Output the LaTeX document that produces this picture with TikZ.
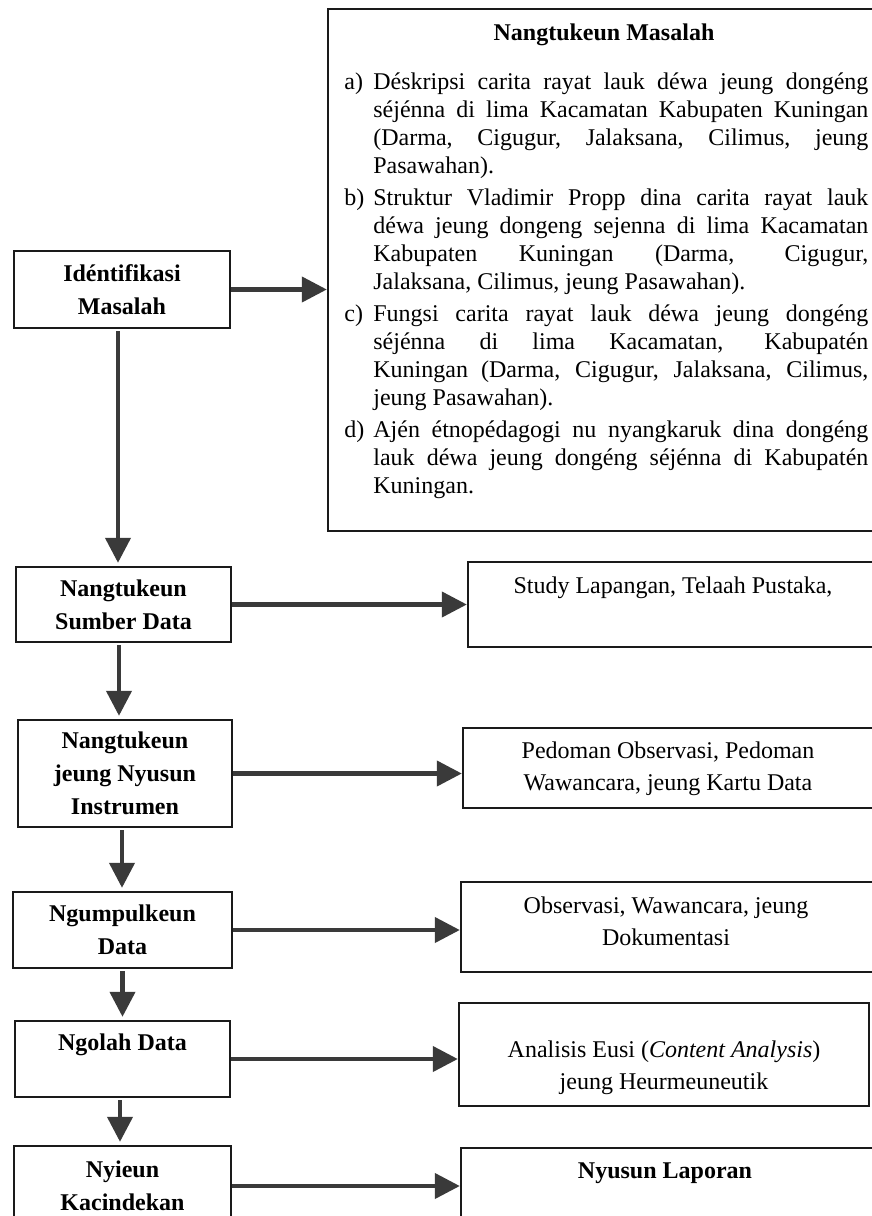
\documentclass[tikz,border=0pt]{standalone}
\usepackage{fontspec}
\setmainfont{Liberation Serif}
\usetikzlibrary{arrows.meta}
\definecolor{arr}{HTML}{3A3A3A}
\definecolor{edge}{HTML}{1A1A1A}
\begin{document}
\begin{tikzpicture}[x=0.5pt,y=-0.5pt,
  lbox/.style={draw=edge, line width=1.2pt, inner sep=0pt, align=center, font=\fontsize{12}{16.5}\selectfont\bfseries},
  rbox/.style={draw=edge, line width=1.2pt, inner sep=0pt},
  rtxt/.style={align=center, inner sep=0pt, font=\fontsize{12}{16}\selectfont},
  conn/.style={draw=arr, line width=2.1pt, -{Triangle[length=12.5pt,width=12.5pt]}},
  vconn/.style={conn, shorten <=1pt, shorten >=1.5pt}]
\useasboundingbox[fill=white] (0,0) rectangle (872,1216);
\clip (0,0) rectangle (872,1216);

% top row
\node[lbox, minimum width=108pt, minimum height=38.5pt] (id) at (122,289.5) {Idéntifikasi\\Masalah};
\node[rbox, minimum width=274pt, minimum height=261pt] (big) at (602,270) {};
\node[font=\fontsize{12}{14}\selectfont\bfseries, anchor=base, inner sep=0pt] (ttl) at (604,40) {Nangtukeun Masalah};
\node[anchor=north west, inner sep=0pt, text width=262pt, align=justify,
      font=\fontsize{12}{14}\selectfont] (lst) at (344,72) {%
\tolerance=10000\hyphenpenalty=10000\parskip=2pt\parindent=0pt
\hangindent=14.5pt\hangafter=1\makebox[14.5pt][l]{a)}Déskripsi carita rayat lauk déwa jeung dongéng\linebreak séjénna di lima Kacamatan Kabupaten Kuningan\linebreak (Darma, Cigugur, Jalaksana, Cilimus, jeung\linebreak Pasawahan).\par
\hangindent=14.5pt\hangafter=1\makebox[14.5pt][l]{b)}Struktur Vladimir Propp dina carita rayat lauk\linebreak déwa jeung dongeng sejenna di lima Kacamatan\linebreak Kabupaten Kuningan (Darma, Cigugur,\linebreak Jalaksana, Cilimus, jeung Pasawahan).\par
\hangindent=14.5pt\hangafter=1\makebox[14.5pt][l]{c)}Fungsi carita rayat lauk déwa jeung dongéng\linebreak séjénna di lima Kacamatan, Kabupatén\linebreak Kuningan (Darma, Cigugur, Jalaksana, Cilimus,\linebreak jeung Pasawahan).\par
\hangindent=14.5pt\hangafter=1\makebox[14.5pt][l]{d)}Ajén étnopédagogi nu nyangkaruk dina dongéng\linebreak lauk déwa jeung dongéng séjénna di Kabupatén\linebreak Kuningan.\par};

% row 2
\node[lbox, minimum width=107.5pt, minimum height=37.5pt] (src) at (123.5,604.5) {Nangtukeun\\Sumber Data};
\node[rbox, minimum width=203.5pt, minimum height=42.5pt] (study) at (671.5,604.5) {};
\node[rtxt] (studyt) at (673,588) {Study Lapangan, Telaah Pustaka,};

% row 3
\node[lbox, minimum width=107pt, minimum height=53.5pt] (ins) at (125,773.5) {Nangtukeun\\jeung Nyusun\\Instrumen};
\node[rbox, minimum width=206pt, minimum height=40pt] (ped) at (669,768) {};
\node[rtxt] (pedt) at (668,769) {Pedoman Observasi, Pedoman\\Wawancara, jeung Kartu Data};

% row 4
\node[lbox, minimum width=109.5pt, minimum height=38pt] (col) at (122.5,930) {Ngumpulkeun\\Data};
\node[rbox, minimum width=207pt, minimum height=45pt] (obs) at (668,927) {};
\node[rtxt] (obst) at (666,921.5) {Observasi, Wawancara, jeung\\Dokumentasi};

% row 5
\node[lbox, minimum width=107.5pt, minimum height=38pt] (proc) at (122.5,1059) {Ngolah Data\\\mbox{}};
\node[rbox, minimum width=205pt, minimum height=51.5pt] (ana) at (664,1054.5) {};
\node[rtxt] (anat) at (664,1067.5) {Analisis Eusi (\textit{Content Analysis})\\jeung Heurmeuneutik};

% row 6
\node[lbox, minimum width=108.5pt, minimum height=40pt] (concl) at (122.5,1186) {Nyieun\\Kacindekan};
\node[rbox, minimum width=207pt, minimum height=41pt] (rep) at (668,1189) {};
\node[rtxt, font=\fontsize{12}{16}\selectfont\bfseries] (rept) at (665,1173) {Nyusun Laporan};

% connectors
\draw[conn] (id.east) -- (id.east -| big.west);
\draw[vconn] ([xshift=-2pt]id.south) -- ([xshift=-2pt]id.south |- src.north);
\draw[conn] (src.east) -- (study.west);
\draw[vconn] ([xshift=-2.25pt]src.south) -- ([xshift=-2.25pt]src.south |- ins.north);
\draw[conn] (ins.east) -- (ins.east -| ped.west);
\draw[vconn] ([xshift=-1.5pt]ins.south) -- ([xshift=-1.5pt]ins.south |- col.north);
\draw[conn] (col.east) -- (col.east -| obs.west);
\draw[vconn] (col.south) -- (col.south |- proc.north);
\draw[conn] (proc.east) -- (proc.east -| ana.west);
\draw[vconn] ([xshift=-1.25pt]proc.south) -- ([xshift=-1.25pt]proc.south |- concl.north);
\draw[conn] (concl.east) -- (concl.east -| rep.west);
\end{tikzpicture}
\end{document}
